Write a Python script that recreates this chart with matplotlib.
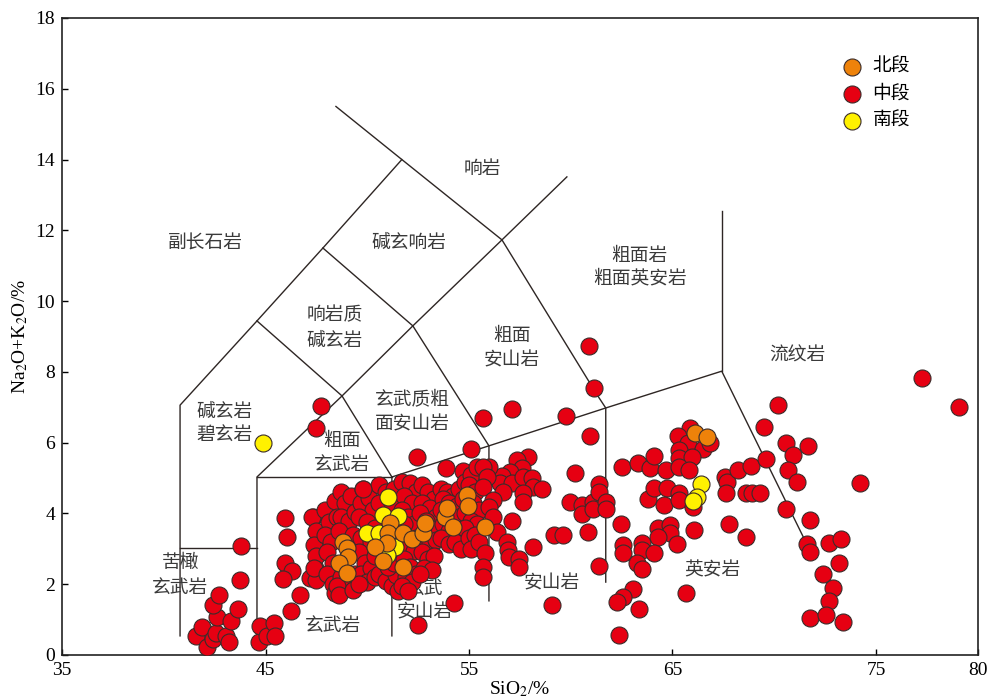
import matplotlib
matplotlib.use("Agg")
import matplotlib.pyplot as plt

plt.rcParams['font.family'] = ['Liberation Serif', 'Noto Sans CJK SC', 'DejaVu Sans']
plt.rcParams['mathtext.fontset'] = 'stix'

# ---- sample data: SiO2 (%) and Na2O+K2O (%) ----
north_x = [48.8, 49.0, 49.05, 48.6, 49.0, 51.1, 51.0, 50.96, 50.37, 50.77, 51.75, 51.75,
           52.2, 52.73, 52.83, 53.8, 53.9, 54.2, 54.9, 54.95, 55.78, 66.1, 66.7]
north_y = [3.19, 3.02, 2.77, 2.6, 2.32, 3.73, 3.45, 3.16, 3.05, 2.66, 2.49, 3.45,
           3.28, 3.45, 3.73, 3.9, 4.15, 3.62, 4.52, 4.21, 3.62, 6.27, 6.16]

south_x = [44.9, 51.0, 50.77, 51.5, 49.98, 50.6, 51.36, 50.96, 66.4, 66.2, 66.0]
south_y = [6.0, 4.46, 3.96, 3.93, 3.45, 3.45, 3.05, 2.83, 4.83, 4.47, 4.35]

middle_x = [
    # picrobasalt / basalt field
    41.6, 41.9, 42.1, 42.4, 42.55, 42.6, 42.4, 42.7, 43.05, 43.2, 43.3, 43.65, 43.75, 43.8,
    44.68, 44.72, 45.07, 45.4, 45.46,
    45.95, 46.05, 45.95, 46.3, 45.85, 46.7, 46.25,
    47.72, 47.5, 47.33, 47.43, 47.2, 47.5,
    # main basalt - basaltic andesite cluster
    47.3, 47.5, 47.4, 47.5, 47.4,
    47.9, 48.1, 47.9, 48.2, 48.0, 48.3, 48.0, 48.3, 48.4, 48.4, 48.5,
    48.7, 48.9, 49.2, 48.7, 49.1, 49.4, 48.6, 49.3, 49.4, 48.7, 49.1, 49.4, 48.5, 48.6, 49.3,
    49.8, 49.7, 50.1, 50.3, 49.6, 50.0, 49.7, 50.2, 49.6, 49.9, 49.7, 50.2, 50.0, 50.4, 49.6, 50.4, 50.4,
    50.6, 50.9, 51.3, 50.6, 51.2, 50.6, 50.9, 51.2, 51.4, 51.5, 51.0, 51.3, 51.5,
    51.7, 52.1, 52.4, 51.8, 52.2, 51.7, 52.0, 52.3, 51.8, 52.4, 51.9, 52.3, 51.8, 52.1, 52.4,
    51.9, 52.2, 51.7, 52.0,
    52.7, 53.0, 53.3, 52.7, 53.1, 52.6, 53.4, 52.9, 53.2, 52.8, 53.1, 53.4, 52.7, 53.0, 53.3,
    52.8, 53.2, 52.6,
    53.6, 53.9, 54.2, 54.5, 53.7, 54.0, 54.4, 53.6, 54.5, 53.7, 54.0, 54.4, 53.6, 54.0, 54.3, 54.6,
    54.7, 54.8, 55.1, 55.4, 55.0, 55.3, 54.7, 55.2, 55.5, 54.8, 55.1, 55.4, 54.8, 55.0, 55.3,
    55.1, 55.5,
    # scattered intermediate samples
    49.78, 52.44, 53.86, 55.1, 55.7, 57.1, 59.75, 60.88, 61.13, 60.93, 60.2, 54.25, 52.5,
    57.9, 57.35, 57.6, 57.0, 56.6, 56.5, 57.1, 57.64, 58.1, 58.13, 58.6, 57.64, 57.64, 56.66,
    56.0, 55.7, 55.9, 55.7, 56.2, 56.0, 56.2, 56.4, 56.86, 56.9, 56.96, 57.45, 57.45, 55.78,
    55.7, 55.7, 57.1, 58.13, 59.1,
    59.95, 60.54, 60.54, 61.08, 61.08, 61.4, 61.4, 61.72, 61.72, 60.84, 59.2, 59.6, 61.38, 62.45,
    # dacite / trachydacite samples
    62.5, 63.3, 63.9, 64.1, 64.7, 63.8, 64.1, 64.75, 64.6, 65.3, 65.3, 66.0,
    65.85, 65.25, 65.75, 66.5, 66.83, 65.3, 65.3, 65.95, 65.3, 65.8,
    64.27, 64.9, 64.9, 64.27, 65.2, 62.55, 62.55, 63.5, 63.5, 64.1, 63.25, 63.5,
    66.05, 65.65, 63.05, 62.55, 62.25, 63.34, 62.35,
    67.6, 67.7, 68.2, 68.84, 67.65, 68.6, 68.9, 69.3, 67.8, 68.6,
    # rhyolite samples
    70.2, 69.5, 70.56, 71.64, 70.9, 69.58, 70.7, 71.1, 74.2, 70.56, 71.74, 71.6, 71.74, 72.7,
    73.26, 73.16, 72.4, 72.9, 72.7, 71.74, 72.56, 73.36, 77.24, 79.1,
]
middle_y = [
    0.54, 0.79, 0.23, 0.45, 0.62, 1.07, 1.41, 1.7, 0.54, 0.37, 0.96, 1.3, 2.12, 3.08,
    0.37, 0.82, 0.54, 0.9, 0.54,
    3.87, 3.33, 2.6, 2.37, 2.15, 1.7, 1.24,
    7.04, 6.41, 3.9, 2.46, 2.18, 2.12,
    3.9, 3.5, 3.1, 2.8, 2.45,
    4.1, 3.75, 3.4, 3.2, 2.9, 2.6, 2.3, 2.0, 1.75, 4.35, 3.9,
    4.6, 4.3, 4.5, 3.9, 3.8, 4.05, 3.5, 3.4, 2.9, 2.2, 2.05, 2.3, 1.95, 1.7, 1.85,
    4.7, 4.3, 4.45, 4.1, 3.9, 3.75, 3.3, 3.2, 2.9, 2.6, 2.3, 2.45, 2.05, 2.2, 2.0, 3.6, 2.8,
    4.8, 4.6, 4.7, 4.3, 4.3, 2.3, 2.1, 1.95, 2.25, 1.8, 2.5, 2.6, 3.0,
    4.9, 4.85, 4.6, 4.5, 4.3, 4.1, 3.9, 3.7, 3.7, 3.3, 3.1, 2.95, 2.7, 2.5, 2.3,
    2.2, 2.05, 1.95, 1.8,
    4.8, 4.6, 4.4, 4.3, 4.15, 4.0, 3.9, 3.8, 3.55, 3.1, 3.2, 3.25, 2.9, 2.7, 2.8,
    2.45, 2.4, 2.3,
    4.7, 4.6, 4.5, 4.7, 4.4, 4.3, 4.2, 4.1, 3.9, 3.7, 3.5, 3.4, 3.3, 3.15, 3.2, 3.0,
    5.2, 4.9, 5.1, 5.3, 4.8, 4.6, 4.4, 4.3, 4.1, 4.0, 3.8, 3.7, 3.6, 3.3, 3.4,
    3.0, 3.2,
    4.69, 5.6, 5.28, 5.82, 6.7, 6.95, 6.75, 8.73, 7.54, 6.19, 5.14, 1.47, 0.85,
    5.6, 5.51, 5.28, 5.17, 5.06, 4.86, 4.86, 5.03, 5.0, 4.75, 4.69, 4.58, 4.32, 4.6,
    5.31, 5.31, 5.03, 4.75, 4.38, 4.18, 3.9, 3.48, 3.19, 2.97, 2.77, 2.71, 2.49, 2.88,
    2.49, 2.2, 3.79, 3.05, 1.41,
    4.32, 4.24, 3.98, 4.32, 4.12, 4.83, 4.6, 4.32, 4.12, 3.48, 3.39, 3.39, 2.52, 3.7,
    5.31, 5.43, 5.28, 5.62, 5.23, 4.41, 4.72, 4.72, 4.24, 4.58, 4.38, 4.18,
    6.41, 6.19, 5.99, 5.82, 5.99, 5.79, 5.57, 5.6, 5.31, 5.23,
    3.59, 3.67, 3.45, 3.33, 3.14, 3.1, 2.88, 3.16, 2.97, 2.88, 2.6, 2.43,
    3.53, 1.75, 1.86, 1.64, 1.5, 1.3, 0.56,
    5.03, 4.89, 5.23, 5.34, 4.58, 4.58, 4.58, 4.58, 3.7, 3.33,
    7.06, 6.44, 5.99, 5.9, 5.65, 5.54, 5.23, 4.89, 4.86, 4.13, 3.81, 3.14, 2.91, 3.16,
    3.28, 2.6, 2.3, 1.89, 1.53, 1.04, 1.13, 0.93, 7.83, 7.0,
]

# ---- TAS classification boundaries ----
boundaries = [
    [(40.8, 0.54), (40.8, 7.06), (44.58, 9.44), (47.82, 11.5), (51.7, 14.0), (48.46, 15.5)],
    [(51.7, 14.0), (56.62, 11.73), (61.33, 7.32), (61.72, 6.98), (61.72, 2.06)],
    [(44.58, 9.44), (48.76, 7.32), (51.21, 5.03), (51.21, 0.54)],
    [(47.82, 11.5), (52.24, 9.3), (55.98, 5.91), (55.98, 1.53)],
    [(44.58, 0.54), (44.58, 5.03), (48.76, 7.32), (52.24, 9.3), (56.62, 11.73), (59.81, 13.51)],
    [(40.8, 3.02), (44.58, 3.02)],
    [(44.58, 5.03), (51.21, 5.03)],
    [(51.21, 5.03), (55.98, 5.91), (61.72, 6.98), (67.42, 8.02), (71.5, 3.25)],
    [(67.42, 8.02), (67.42, 12.55)],
]

field_names = [
    ("副长石岩", 42.02, 11.64),
    ("碱玄响岩", 52.04, 11.67),
    ("响岩", 55.68, 13.76),
    ("粗面岩", 63.39, 11.3), ("粗面英安岩", 63.39, 10.65),
    ("响岩质", 48.41, 9.61), ("碱玄岩", 48.41, 8.9),
    ("粗面", 57.1, 9.04), ("安山岩", 57.1, 8.34),
    ("流纹岩", 71.15, 8.48),
    ("碱玄岩", 43.0, 6.89), ("碧玄岩", 43.0, 6.24),
    ("玄武质粗", 52.24, 7.23), ("面安山岩", 52.24, 6.53),
    ("粗面", 48.75, 6.07), ("玄武岩", 48.75, 5.4),
    ("苦橄", 40.8, 2.6), ("玄武岩", 40.8, 1.92),
    ("玄武岩", 48.31, 0.85),
    ("玄武", 52.83, 1.89), ("安山岩", 52.83, 1.22),
    ("安山岩", 59.07, 2.03),
    ("英安岩", 66.97, 2.4),
]

fig = plt.figure(figsize=(9.91, 7.0), dpi=100)
ax = fig.add_axes([0.0626, 0.0643, 0.924, 0.910])

for line in boundaries:
    xs = [p[0] for p in line]
    ys = [p[1] for p in line]
    ax.plot(xs, ys, color='#2e2624', lw=1.0, zorder=1)

cjk = ['Noto Sans CJK SC', 'DejaVu Sans']
for txt, tx, ty in field_names:
    ax.text(tx, ty, txt, ha='center', va='center', fontsize=13.5, family=cjk,
            fontweight='light', color='#3a3a3a', zorder=2)

ms = 150
ec = '#3a2c2a'
ax.scatter(middle_x, middle_y, s=ms, c='#e60012', edgecolors=ec, linewidths=0.8,
           zorder=3, label='中段')
ax.scatter(south_x, south_y, s=ms, c='#fff100', edgecolors=ec, linewidths=0.8,
           zorder=4, label='南段')
ax.scatter(north_x, north_y, s=ms, c='#ee820a', edgecolors=ec, linewidths=0.8,
           zorder=5, label='北段')

handles, labels = ax.get_legend_handles_labels()
order = [2, 0, 1]
leg = ax.legend([handles[i] for i in order], [labels[i] for i in order],
                loc='upper left', bbox_to_anchor=(0.834, 0.953), frameon=False,
                prop={'family': cjk, 'size': 13.5, 'weight': 'light'},
                handletextpad=0.1, labelspacing=0.33, borderaxespad=0.0,
                scatterpoints=1)

ax.set_xlim(35, 80)
ax.set_ylim(0, 18)
ax.set_xticks([35, 45, 55, 65, 75, 80])
ax.set_yticks(range(0, 19, 2))
ax.tick_params(direction='in', length=4, width=1, labelsize=14, pad=5)
for lab in ax.get_xticklabels() + ax.get_yticklabels():
    lab.set_family('Liberation Serif')
for sp in ax.spines.values():
    sp.set_linewidth(1.2)
    sp.set_color('#222222')

ax.set_xlabel(r'SiO$_2$/%', fontsize=14, family='Liberation Serif', labelpad=0)
ax.set_ylabel(r'Na$_2$O+K$_2$O/%', fontsize=14, family='Liberation Serif', labelpad=4)

fig.savefig('out.png', dpi=100)
